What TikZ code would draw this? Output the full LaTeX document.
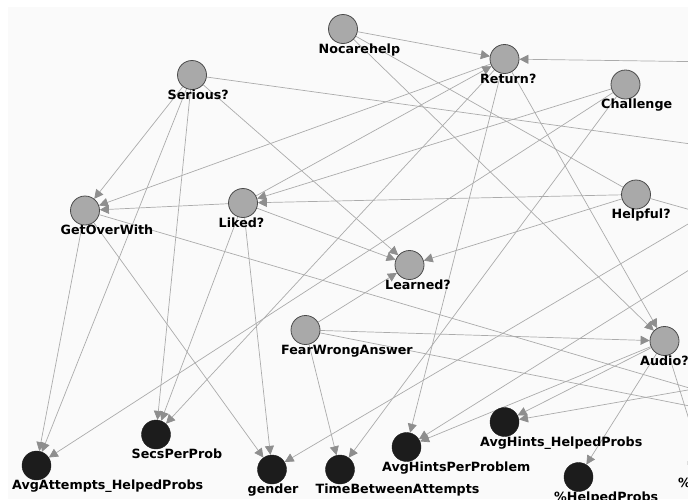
\documentclass[tikz,border=0pt]{standalone}
\usepackage{fontspec}
\setmainfont{DejaVu Sans}
\usetikzlibrary{arrows.meta,backgrounds}
\definecolor{hidn}{HTML}{A9A9A9}
\definecolor{obsn}{HTML}{1C1C1C}
\definecolor{rim}{HTML}{4A4A4A}
\definecolor{edgec}{HTML}{ABABAB}
\definecolor{tipc}{HTML}{8E8E8E}
\definecolor{panel}{HTML}{FAFAFA}
\tikzset{
  hid/.style={circle,draw=rim,fill=hidn,minimum size=29pt,inner sep=0pt,line width=0.8pt},
  obs/.style={circle,draw=obsn,fill=obsn,minimum size=29pt,inner sep=0pt},
  lbl/.style={anchor=base west,xshift=-24.5pt,yshift=-24pt,inner sep=0pt,
    font=\bfseries\fontsize{12.7}{14}\selectfont},
  dep/.style={draw=edgec,line width=0.7pt,-{Triangle[length=9pt,width=9pt,color=tipc]}}
}
\begin{document}
\begin{tikzpicture}[x=1pt,y=-1pt]
\useasboundingbox (0,0) rectangle (688,499);
\clip (0,0) rectangle (688,499);

% attitudes
\node[hid] (nocare)  at (343,29)    {};
\node[hid] (serious) at (192,75)    {};
\node[hid] (return)  at (504.5,59)  {};
\node[hid] (chall)   at (625.5,84.5){};
\node[hid] (getover) at (85,210.5)  {};
\node[hid] (liked)   at (243,203)   {};
\node[hid] (helpful) at (636,194.5) {};
\node[hid] (learned) at (409.5,265) {};
\node[hid] (fear)    at (305.5,330) {};
\node[hid] (audio)   at (664.5,341) {};

% behaviours
\node[obs] (avgatt)  at (36.5,465.5){};
\node[obs] (secs)    at (156,434.5) {};
\node[obs] (gender)  at (272,469.5) {};
\node[obs] (timeb)   at (340,469.5) {};
\node[obs] (avghint) at (406.5,447) {};
\node[obs] (hinthp)  at (504.5,422) {};
\node[obs] (pcthp)   at (578.5,477) {};
\node[obs] (pctx)    at (702.5,463) {};

% nodes cut off at the right edge
\coordinate (xret)  at (720,62);
\coordinate (xser)  at (720,148);
\coordinate (xtop)  at (705,214);
\coordinate (xmid)  at (705,260);
\coordinate (xgo)   at (720,397);
\coordinate (xfear) at (720,412);
\coordinate (xlow)  at (705,387);

\node[lbl] (nocare-t)  at (nocare)  {Nocarehelp};
\node[lbl] (serious-t) at (serious) {Serious?};
\node[lbl] (return-t)  at (return)  {Return?};
\node[lbl] (chall-t)   at (chall)   {Challenge};
\node[lbl] (getover-t) at (getover) {GetOverWith};
\node[lbl] (liked-t)   at (liked)   {Liked?};
\node[lbl] (helpful-t) at (helpful) {Helpful?};
\node[lbl] (learned-t) at (learned) {Learned?};
\node[lbl] (fear-t)    at (fear)    {FearWrongAnswer};
\node[lbl] (audio-t)   at (audio)   {Audio?};
\node[lbl] (avgatt-t)  at (avgatt)  {AvgAttempts\_HelpedProbs};
\node[lbl] (secs-t)    at (secs)    {SecsPerProb};
\node[lbl] (gender-t)  at (gender)  {gender};
\node[lbl] (timeb-t)   at (timeb)   {TimeBetweenAttempts};
\node[lbl] (avghint-t) at (avghint) {AvgHintsPerProblem};
\node[lbl] (hinthp-t)  at (hinthp)  {AvgHints\_HelpedProbs};
\node[lbl] (pcthp-t)   at (pcthp)   {\%HelpedProbs};
\node[lbl] (pctx-t)    at (pctx)    {\%};

\begin{scope}[on background layer]
\clip (0,0) rectangle (688,499);
\fill[white] (0,0) rectangle (688,499);
\fill[panel] (8,7) rectangle (688,499);
\draw[dep] (nocare) -- (return);
\draw[dep] (nocare) -- (audio);
\draw[edgec,line width=0.7pt] (nocare) -- (helpful);
\draw[dep] (xret) -- (return);
\draw[dep] (serious) -- (getover);
\draw[dep] (serious) -- (avgatt);
\draw[dep] (serious) -- (secs);
\draw[dep] (serious) -- (learned);
\draw[dep] (serious) -- (xser);
\draw[dep] (return) -- (getover);
\draw[dep] (liked) -- (return);
\draw[dep] (return) -- (secs);
\draw[dep] (return) -- (avghint);
\draw[dep] (return) -- (audio);
\draw[dep] (chall) -- (liked);
\draw[dep] (chall) -- (avgatt);
\draw[dep] (chall) -- (timeb);
\draw[dep] (getover) -- (avgatt);
\draw[dep] (getover) -- (gender);
\draw[dep] (getover) -- (xgo);
\draw[dep] (liked) -- (getover);
\draw[dep] (liked) -- (learned);
\draw[dep] (liked) -- (secs);
\draw[dep] (liked) -- (gender);
\draw[dep] (helpful) -- (liked);
\draw[dep] (helpful) -- (learned);
\draw[dep] (helpful) -- (xtop);
\draw[dep] (fear) -- (learned);
\draw[dep] (fear) -- (audio);
\draw[dep] (fear) -- (timeb);
\draw[dep] (fear) -- (xfear);
\draw[dep] (audio) -- (avghint);
\draw[dep] (audio) -- (hinthp);
\draw[dep] (audio) -- (pcthp);
\draw[dep] (audio) -- (pctx);
\draw[dep] (xtop) -- (gender);
\draw[dep] (xmid) -- (avghint);
\draw[dep] (xlow) -- (hinthp);
\end{scope}
\end{tikzpicture}
\end{document}
